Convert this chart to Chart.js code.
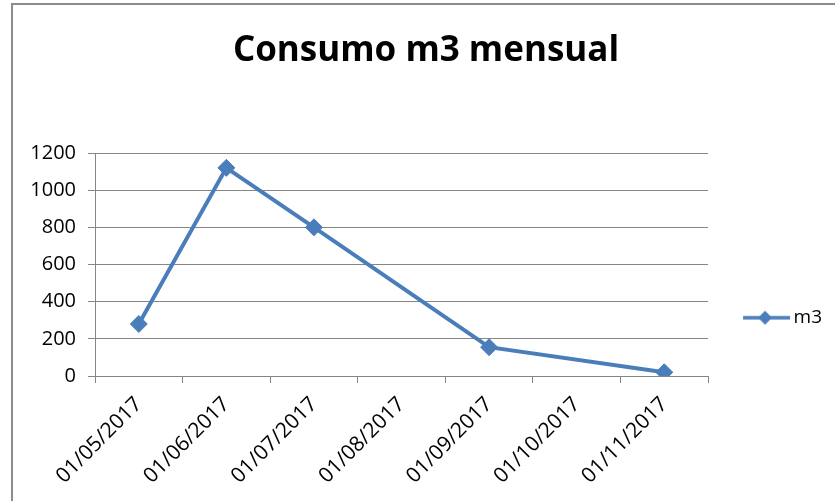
<!DOCTYPE html>
<html>
<head>
<meta charset="utf-8">
<script src="https://cdn.jsdelivr.net/npm/chart.js@4/dist/chart.umd.min.js"></script>
<style>
  body { margin: 0; background: #fff; }
  #wrap { position: relative; width: 835px; height: 501px; overflow: hidden; }
  #frame { position: absolute; left: 11px; top: 3px; width: 900px; height: 600px; border: 2px solid #8c8c8c; }
  canvas { position: absolute; left: 0; top: 0; }
</style>
</head>
<body>
<div id="wrap">
  <div id="frame"></div>
  <canvas id="consumo_chart" width="835" height="501"></canvas>
</div>
<script>
const MESES = ['01/05/2017', '01/06/2017', '01/07/2017', '01/08/2017', '01/09/2017', '01/10/2017', '01/11/2017'];
// agosto y octubre sin lectura
const CONSUMO_M3 = [280, 1120, 800, null, 155, null, 20];
const Y_TICKS = [0, 200, 400, 600, 800, 1000, 1200];

const AZUL = '#4a7ebb';
const GRIS = '#868686';
const FUENTE = "'Open Sans', sans-serif";

// icono de leyenda: linea con rombo, al estilo de la serie
function iconoLeyenda() {
  const c = document.createElement('canvas');
  c.width = 80;
  c.height = 20;
  const g = c.getContext('2d');
  g.strokeStyle = AZUL;
  g.lineWidth = 3.5;
  g.beginPath();
  g.moveTo(32, 10);
  g.lineTo(79, 10);
  g.stroke();
  g.fillStyle = AZUL;
  g.beginPath();
  g.moveTo(54, 3);
  g.lineTo(61, 10);
  g.lineTo(54, 17);
  g.lineTo(47, 10);
  g.closePath();
  g.fill();
  return c;
}
const ICONO = iconoLeyenda();

const ctx = document.getElementById('consumo_chart');
const chart = new Chart(ctx, {
  type: 'line',
  data: {
    labels: MESES,
    datasets: [{
      label: 'm3',
      data: CONSUMO_M3,
      borderColor: AZUL,
      backgroundColor: AZUL,
      borderWidth: 4,
      pointStyle: 'rectRot',
      pointRadius: 8.5,
      pointBorderWidth: 1,
      spanGaps: true,
      tension: 0
    }]
  },
  options: {
    responsive: false,
    animation: false,
    layout: { padding: { left: 20, right: 3 } },
    plugins: {
      title: {
        display: true,
        text: 'Consumo m3 mensual',
        color: '#000',
        font: { family: FUENTE, size: 35, weight: 'bold' },
        padding: { top: 30, bottom: 81 }
      },
      legend: {
        position: 'right',
        title: { display: true, text: '', padding: { top: 0, bottom: 120 } },
        labels: {
          color: '#000',
          font: { family: FUENTE, size: 19 },
          usePointStyle: true,
          pointStyle: ICONO,
          pointStyleWidth: 66,
          boxHeight: 19,
          padding: 10
        }
      },
      tooltip: { enabled: false }
    },
    scales: {
      x: {
        type: 'category',
        offset: true,
        afterFit: (scale) => { scale.height = 125; },
        grid: {
          offset: true,
          drawOnChartArea: false,
          drawTicks: true,
          tickLength: 7,
          color: GRIS
        },
        border: { color: GRIS, width: 1 },
        ticks: {
          color: '#000',
          font: { family: FUENTE, size: 21 },
          minRotation: 45,
          maxRotation: 45,
          autoSkip: false,
          padding: 9
        }
      },
      y: {
        min: 0,
        max: 1200,
        afterFit: (scale) => { scale.width = 75; },
        afterBuildTicks: (scale) => { scale.ticks = Y_TICKS.map(v => ({ value: v })); },
        grid: {
          color: GRIS,
          tickLength: 7
        },
        border: { color: GRIS, width: 1 },
        ticks: {
          color: '#000',
          font: { family: FUENTE, size: 20 },
          padding: 12,
          callback: (v) => String(v)
        }
      }
    }
  }
});
</script>
</body>
</html>
